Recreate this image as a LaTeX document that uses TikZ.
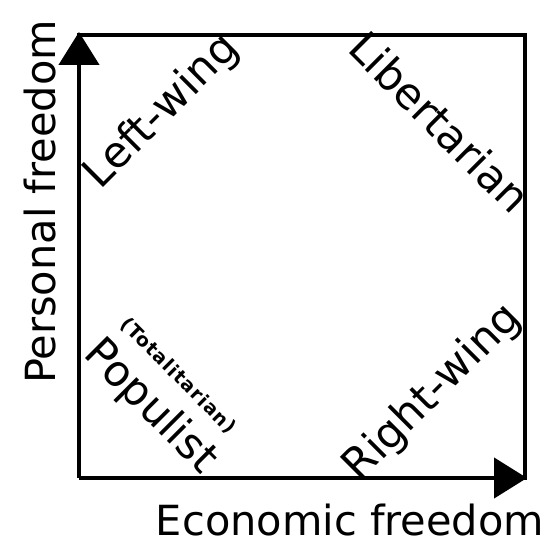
\documentclass[tikz,border=0pt]{standalone}
\usepackage{fontspec}
\setmainfont{DejaVu Sans}
\usetikzlibrary{arrows.meta}
\newfontfamily\spacedfont[LetterSpace=6]{DejaVu Sans Bold}
\begin{document}
\begin{tikzpicture}[x=1pt,y=-1pt,
  axis/.style={line width=4.5pt,-{Triangle[length=33pt,width=40pt]}},
  frame/.style={line width=4pt,line cap=rect},
  big/.style={font=\fontsize{41.5}{48}\selectfont,inner sep=0pt},
  diag/.style={font=\fontsize{43}{48}\selectfont,inner sep=0pt},
  small/.style={font=\spacedfont\fontsize{19}{22}\selectfont,inner sep=0pt}]
\path[use as bounding box] (0,0) rectangle (554,540);
\coordinate (bl) at (79,478);
\coordinate (tl) at (79,32);
\coordinate (tlf) at (79,35);
\coordinate (tr) at (525,35);
\coordinate (br) at (525,478);
\coordinate (bra) at (527,478);
\draw[frame] (tlf) -- (tr) -- (br);
\draw[axis] (bl) -- (tl);
\draw[axis] (bl) -- (bra);
\node[big,anchor=base] (econ) at (350,535) {Economic freedom};
\node[big,anchor=base,rotate=90] (pers) at (55,202) {Personal freedom};
\node[diag,rotate=45] (left) at (162,112) {Left-wing};
\node[diag,rotate=-45] (lib) at (440,122) {Libertarian};
\node[diag,rotate=-45] (pop) at (150,407) {Populist};
\node[small,rotate=-45] (tot) at (178,376) {(Totalitarian)};
\node[diag,rotate=45] (right) at (433,393) {Right-wing};
\end{tikzpicture}
\end{document}
